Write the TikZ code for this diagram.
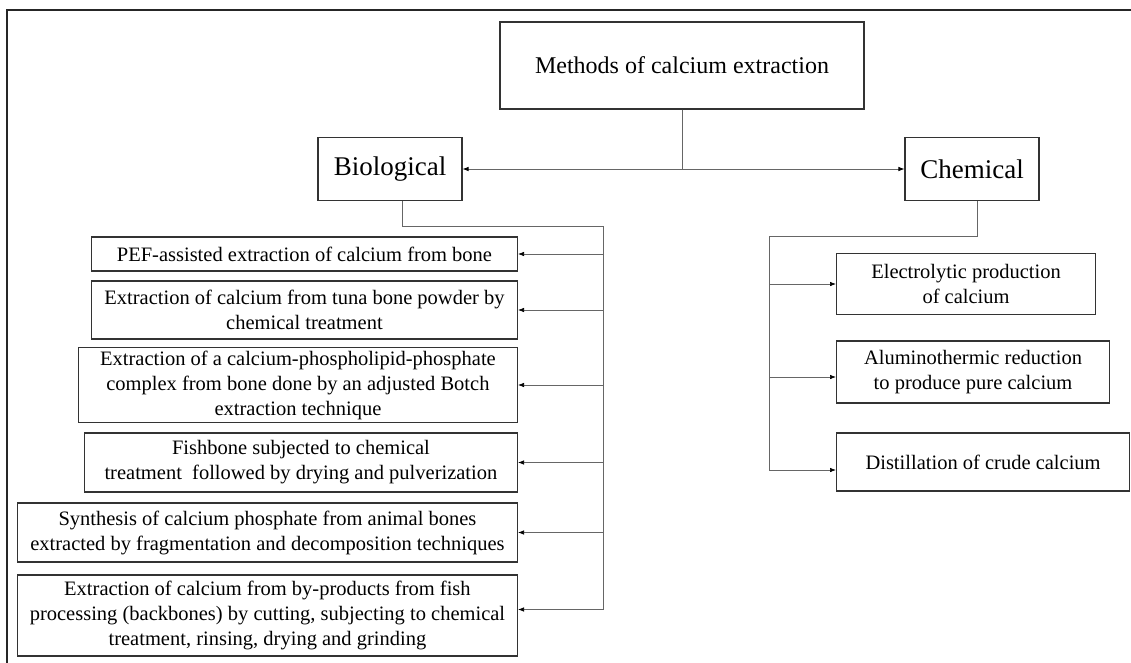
\documentclass[tikz,border=0pt]{standalone}
\usepackage{fontspec}
\setmainfont{Liberation Serif}
\usetikzlibrary{arrows.meta}
\tikzset{
  framerule/.style={line width=1.8pt, black!85},
  rootbox/.style={draw=black!80, line width=1.1pt, minimum width=364pt, minimum height=87pt, font=\fontsize{24}{28}\selectfont},
  kindbox/.style={draw=black!80, line width=1.1pt, minimum height=63pt, font=\fontsize{27}{31}\selectfont},
  methodbox/.style={draw=black!80, line width=1.1pt, align=center, inner xsep=8pt, font=\fontsize{20.5}{25}\selectfont},
  linkline/.style={line width=0.7pt, black!60},
  linkarrow/.style={line width=0.7pt, black!60, -{Latex[length=6pt, width=4.5pt, black]}},
}

\begin{document}
\begin{tikzpicture}[x=1pt,y=-1pt]
\useasboundingbox (0,0) rectangle (1131,662);
\draw[framerule] (7,670) -- (7,10) -- (1140,10);
\node[rootbox] (root) at (682,65.5) {Methods of calcium extraction};
\node[kindbox, minimum width=144pt] (bio) at (390,169) {Biological};
\node[kindbox, minimum width=134pt] (chem) at (972,169) {Chemical};
\node[methodbox, anchor=east, minimum width=426pt, minimum height=34pt] (pef) at (518,254) {PEF-assisted extraction of calcium from bone};
\node[methodbox, anchor=east, minimum width=426pt, minimum height=58pt] (tuna) at (518,310) {Extraction of calcium from tuna bone powder by\\chemical treatment};
\node[methodbox, anchor=east, minimum width=439pt, minimum height=74pt] (botch) at (518,385) {Extraction of a calcium-phospholipid-phosphate\\complex from bone done by an adjusted Botch\\extraction technique};
\node[methodbox, anchor=east, minimum width=433pt, minimum height=59pt] (fish) at (518,462.5) {Fishbone subjected to chemical\\treatment\ \ followed by drying and pulverization};
\node[methodbox, anchor=east, minimum width=500pt, minimum height=59pt] (synth) at (518,532.5) {Synthesis of calcium phosphate from animal bones\\extracted by fragmentation and decomposition techniques};
\node[methodbox, anchor=east, minimum width=500pt, minimum height=81pt] (byprod) at (518,615.5) {Extraction of calcium from by-products from fish\\processing (backbones) by cutting, subjecting to chemical\\treatment, rinsing, drying and grinding};
\node[methodbox, anchor=west, minimum width=259pt, minimum height=61pt] (elec) at (836,284) {Electrolytic production\\of calcium};
\node[methodbox, anchor=west, minimum width=273pt, minimum height=62pt] (alum) at (836,372) {Aluminothermic reduction\\to produce pure calcium};
\node[methodbox, anchor=west, minimum width=293pt, minimum height=58pt] (dist) at (836,462) {Distillation of crude calcium};
\coordinate (biotop) at (603,226);
\coordinate (chemtop) at (769,236);
\coordinate (byin) at ([yshift=6pt]byprod.east);
\coordinate (alumin) at ([yshift=-5pt]alum.west);
\coordinate (distin) at ([yshift=-8pt]dist.west);
\draw[linkarrow] (root.south) |- (bio.east);
\draw[linkarrow] (root.south) |- (chem.west);
\draw[linkline] ([xshift=12pt]bio.south) |- (biotop) -- (biotop |- byin);
\draw[linkline] ([xshift=5pt]chem.south) |- (chemtop) -- (chemtop |- distin);
\draw[linkarrow] (biotop |- pef.east) -- (pef.east);
\draw[linkarrow] (biotop |- tuna.east) -- (tuna.east);
\draw[linkarrow] (biotop |- botch.east) -- (botch.east);
\draw[linkarrow] (biotop |- fish.east) -- (fish.east);
\draw[linkarrow] (biotop |- synth.east) -- (synth.east);
\draw[linkarrow] (biotop |- byin) -- (byin);
\draw[linkarrow] (chemtop |- elec.west) -- (elec.west);
\draw[linkarrow] (chemtop |- alumin) -- (alumin);
\draw[linkarrow] (chemtop |- distin) -- (distin);
\end{tikzpicture}
\end{document}
